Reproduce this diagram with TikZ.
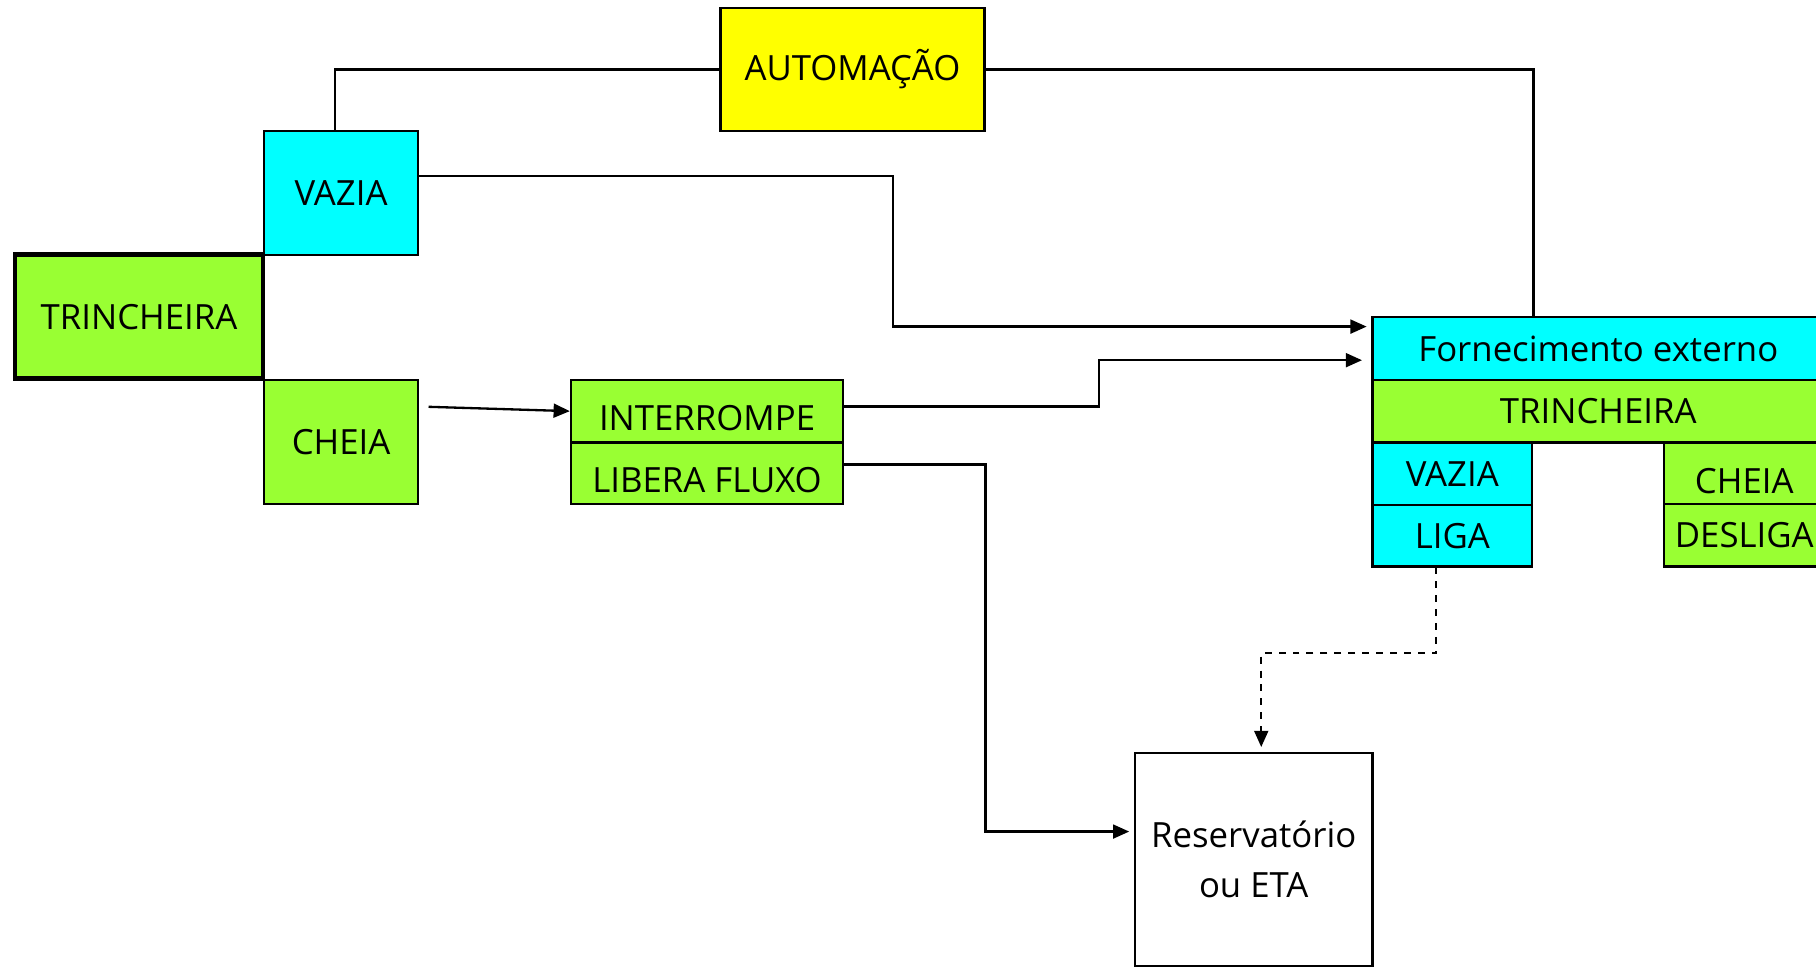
\documentclass[tikz,border=0pt]{standalone}
\usepackage{fontspec}
\setmainfont{Open Sans}
\usetikzlibrary{arrows.meta}
\definecolor{amarelo}{RGB}{255,255,0}
\definecolor{ciano}{RGB}{0,255,255}
\definecolor{verde}{RGB}{153,255,51}
\newcommand{\baixo}[1]{\raisebox{-3pt}[\height][\depth]{#1}}
\tikzset{
  box/.style={draw, line width=1pt, inner sep=0pt, align=center, font=\fontsize{15}{21.5}\selectfont},
  linha/.style={line width=1pt},
  seta/.style={line width=1pt, -{Triangle[length=7pt,width=6pt]}},
}
\begin{document}
\begin{tikzpicture}[x=0.5pt,y=0.5pt,yscale=-1,xscale=1]
\useasboundingbox (0,0) rectangle (1568,835);
% caixas da esquerda
\node[box, fill=amarelo, minimum width=114pt, minimum height=53pt] (auto) at (736,60) {AUTOMAÇÃO};
\node[box, fill=ciano, minimum width=66.5pt, minimum height=53.5pt] (vazia) at (294.5,166.5) {VAZIA};
\node[box, fill=verde, line width=2pt, minimum width=107pt, minimum height=53.5pt] (trinch) at (120,273.5) {TRINCHEIRA};
\node[box, fill=verde, minimum width=66.5pt, minimum height=53.5pt] (cheia) at (294.5,381.5) {CHEIA};
\node[box, fill=verde, minimum width=117.5pt, minimum height=27pt] (interr) at (610.5,355) {\baixo{INTERROMPE}};
\node[box, fill=verde, minimum width=117.5pt, minimum height=26.5pt] (libera) at (610.5,408.5) {\baixo{LIBERA FLUXO}};
% caixas da direita
\node[box, fill=ciano, minimum width=195pt, minimum height=27pt] (forn) at (1380,301) {Fornecimento externo};
\node[box, fill=verde, minimum width=195pt, minimum height=27pt] (trinr) at (1380,355) {TRINCHEIRA};
\node[box, fill=ciano, minimum width=69pt, minimum height=27pt] (vazr) at (1254,409) {VAZIA};
\node[box, fill=ciano, minimum width=69pt, minimum height=26.5pt] (liga) at (1254,462.5) {LIGA};
\node[box, fill=verde, minimum width=69pt, minimum height=27pt] (cheir) at (1506,409) {\baixo{CHEIA}};
\node[box, fill=verde, minimum width=69pt, minimum height=27pt] (desl) at (1506,462) {DESLIGA};
\node[box, fill=white, minimum width=102.5pt, minimum height=92pt] (reserv) at (1082.5,742) {Reservatório\\ou ETA};
% ligacoes
\draw[linha] (vazia.north -| 289,0) |- (auto.west);
\draw[linha] (auto.east) -| (forn.north -| vazr.east);
\draw[seta, shorten >=2pt] (vazia.east |- 0,152) -| (771,282) -- (forn.west |- 0,282);
\draw[seta, shorten <=4pt] (cheia.east |- 0,351) -- (interr.west);
\draw[seta, shorten >=4pt] (interr.east |- 0,351) -| (949,311) -- (forn.west |- 0,311);
\draw[seta, shorten >=2pt] (libera.east |- 0,401) -| (851,718) -- (reserv.west |- 0,718);
\draw[seta, dashed, shorten >=2pt] (liga.south -| 1240,0) |- (1089,564) -- (reserv.north -| 1089,0);
\end{tikzpicture}
\end{document}
